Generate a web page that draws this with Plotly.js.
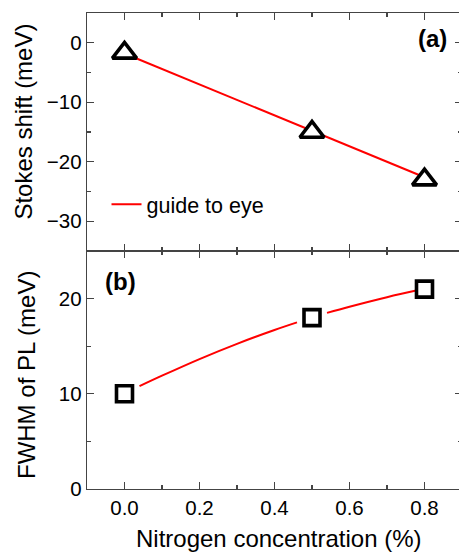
<!DOCTYPE html>
<html>
<head>
<meta charset="utf-8">
<script src="https://cdn.plot.ly/plotly-3.0.1.min.js"></script>
<style>
  html, body { margin: 0; padding: 0; overflow: hidden; background: #fff; }
  #chart { width: 470px; height: 552px; }
</style>
</head>
<body>
<div id="chart"></div>
<script>
// Nitrogen concentration (%) of the samples
const nitrogen = [0.0, 0.5, 0.8];

// (a) Stokes shift (meV)
const stokesShift = [-1.7, -15.0, -23.0];
// straight guide line for panel (a)
const guideAX = [0.0, 0.8];
const guideAY = [-1.8, -22.6];

// (b) FWHM of PL (meV)
const fwhm = [10, 18, 21];
// smooth guide curve for panel (b), interrupted around the middle point
const guideBX = [0.04, 0.1, 0.2, 0.3, 0.4, 0.46, null, 0.54, 0.6, 0.7, 0.79];
const guideBY = [10.8, 11.9, 13.65, 15.25, 16.7, 17.5, null, 18.5, 19.15, 20.15, 20.95];

const xTicks = [0.0, 0.2, 0.4, 0.6, 0.8];
const xTickText = ['0.0', '0.2', '0.4', '0.6', '0.8'];
const yTicksA = [-30, -20, -10, 0];
const yTicksB = [0, 10, 20];

const FONT = 'Liberation Sans, Arial, sans-serif';
const AXIS_COLOR = '#444444';
const MAJOR_LEN = 7, MINOR_LEN = 4, TICK_W = 1.3;

const traces = [
  {
    x: guideAX, y: guideAY, xaxis: 'x2', yaxis: 'y2',
    mode: 'lines', name: 'guide to eye',
    line: {color: '#ff0000', width: 2},
    showlegend: true
  },
  {
    x: nitrogen, y: stokesShift, xaxis: 'x2', yaxis: 'y2',
    mode: 'markers', name: 'Stokes shift',
    marker: {symbol: 'triangle-up', size: 21, color: '#ffffff',
             line: {color: '#000000', width: 3.6}},
    showlegend: false
  },
  {
    x: guideBX, y: guideBY, xaxis: 'x', yaxis: 'y',
    mode: 'lines', name: 'guide B', connectgaps: false,
    line: {color: '#ff0000', width: 2, shape: 'spline'},
    showlegend: false
  },
  {
    x: nitrogen, y: fwhm, xaxis: 'x', yaxis: 'y',
    mode: 'markers', name: 'FWHM',
    marker: {symbol: 'square', size: 16, color: '#ffffff',
             line: {color: '#000000', width: 3.6}},
    showlegend: false
  }
];

const minorX = {dtick: 0.1, tick0: 0, ticks: 'inside', ticklen: MINOR_LEN, tickwidth: TICK_W, tickcolor: AXIS_COLOR};
const minorY = {dtick: 5, tick0: 0, ticks: 'inside', ticklen: MINOR_LEN, tickwidth: TICK_W, tickcolor: AXIS_COLOR};

// boxed axes with inward ticks on every edge, including the shared middle edge
const commonAxis = {
  showline: true, linecolor: AXIS_COLOR, linewidth: TICK_W,
  mirror: 'allticks', ticks: 'inside', ticklen: MAJOR_LEN, tickwidth: TICK_W,
  tickcolor: AXIS_COLOR, showgrid: false, zeroline: false,
  tickfont: {family: FONT, size: 20.5, color: '#000'}
};

const layout = {
  width: 470, height: 552,
  margin: {l: 86.5, r: 8.2, t: 13, b: 63},
  paper_bgcolor: '#fff', plot_bgcolor: 'rgba(0,0,0,0)',
  font: {family: FONT, color: '#000'},
  xaxis: Object.assign({}, commonAxis, {
    anchor: 'y', range: [-0.1, 0.9],
    tickvals: xTicks, ticktext: xTickText, minor: minorX
  }),
  xaxis2: Object.assign({}, commonAxis, {
    anchor: 'y2', range: [-0.1, 0.9],
    tickvals: xTicks, showticklabels: false, minor: minorX
  }),
  yaxis: Object.assign({}, commonAxis, {
    domain: [0, 0.5], anchor: 'x', range: [0, 25],
    tickvals: yTicksB, minor: minorY
  }),
  yaxis2: Object.assign({}, commonAxis, {
    domain: [0.5, 1], anchor: 'x2', range: [-35, 5],
    tickvals: yTicksA, minor: minorY
  }),
  legend: {
    x: 0.052, y: 0.598, xanchor: 'left', yanchor: 'middle',
    bgcolor: 'rgba(0,0,0,0)', borderwidth: 0,
    font: {family: FONT, size: 21.5, color: '#000'}
  },
  annotations: [
    {text: 'Stokes shift (meV)', xref: 'paper', yref: 'paper',
     x: -0.1705, y: 0.772, xanchor: 'center', yanchor: 'middle',
     textangle: -90, showarrow: false, font: {family: FONT, size: 24}},
    {text: 'FWHM of PL (meV)', xref: 'paper', yref: 'paper',
     x: -0.1612, y: 0.2385, xanchor: 'center', yanchor: 'middle',
     textangle: -90, showarrow: false, font: {family: FONT, size: 24}},
    {text: 'Nitrogen concentration (%)', xref: 'paper', yref: 'paper',
     x: 0.5116, y: -0.1046, xanchor: 'center', yanchor: 'middle',
     showarrow: false, font: {family: FONT, size: 24}},
    {text: '<b>(a)</b>', xref: 'paper', yref: 'paper',
     x: 0.9206, y: 0.9459, xanchor: 'center', yanchor: 'middle',
     showarrow: false, font: {family: FONT, size: 24}},
    {text: '<b>(b)</b>', xref: 'paper', yref: 'paper',
     x: 0.0906, y: 0.4354, xanchor: 'center', yanchor: 'middle',
     showarrow: false, font: {family: FONT, size: 24}}
  ]
};

Plotly.newPlot('chart', traces, layout, {staticPlot: true, displayModeBar: false});
</script>
</body>
</html>
